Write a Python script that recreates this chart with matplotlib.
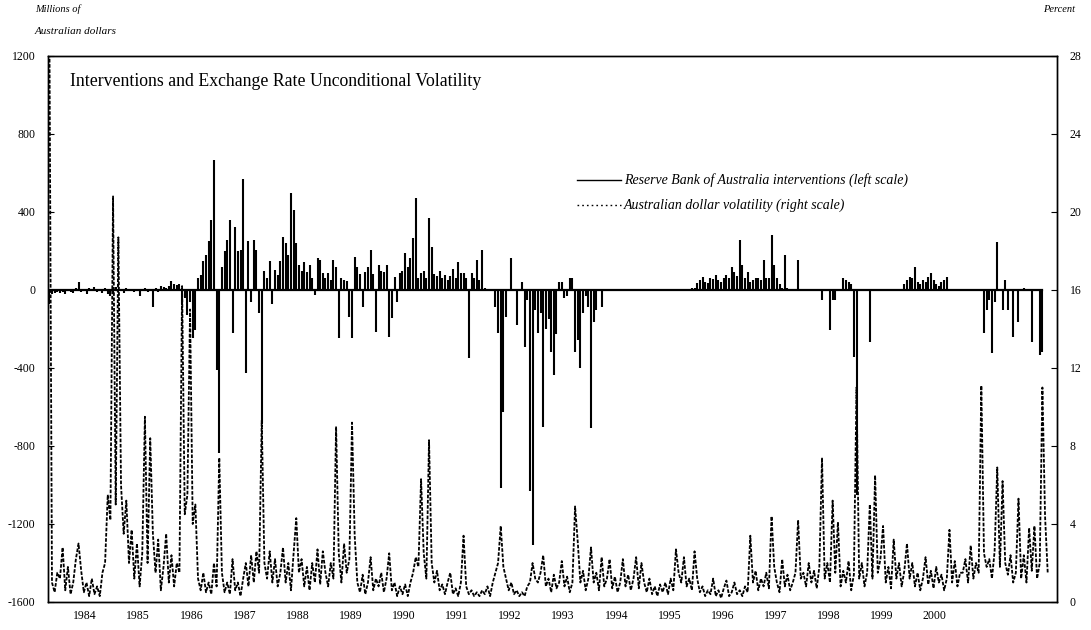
import numpy as np
import matplotlib
matplotlib.use("Agg")
import matplotlib.pyplot as plt
from matplotlib.lines import Line2D

plt.rcParams['font.family'] = ['Liberation Serif', 'DejaVu Serif']
plt.rcParams['axes.unicode_minus'] = False

# ---------------- data (sampled 20 times per year, first sample 1983.825) ----------------
start_date = 1983.825
step = 0.05

# Reserve Bank of Australia interventions, millions of A$ (left scale)
int_1983 = [-70, -20, -15, -10]
int_1984 = [-15, -10, -20, 5, -10, -15, 10, 40, -10, 5, -20, 10, -5, 15, -10, 5, -15, 10, -20, -30]
int_1985 = [-20, 15, -10, 5, -15, 10, -5, 5, -10, -5, -30, 5, 10, -10, 5, -85, 10, -10, 20, 15]
int_1986 = [10, 20, 45, 30, 25, 30, -70, -40, -130, -60, -245, -205, 60, 75, 150, 180, 250, 360, 667, -410]
int_1987 = [-836, 120, 200, 256, 360, -220, 325, 200, 205, 570, -427, 250, -60, 256, 205, -120, -680, 95, 60, 150]
int_1988 = [-70, 103, 75, 150, 270, 240, 180, 500, 410, 240, 130, 100, 145, 90, 130, 60, -25, 162, 154, 85]
int_1989 = [60, 85, 50, 154, 120, -248, 60, 50, 45, -137, -248, 171, 120, 80, -85, 90, 120, 205, 80, -214]
int_1990 = [128, 100, 90, 128, -240, -145, 68, -60, 85, 100, 188, 120, 162, 265, 470, 60, 85, 100, 60, 370]
int_1991 = [222, 80, 70, 96, 60, 75, 50, 70, 110, 60, 145, 85, 85, 60, -350, 85, 60, 154, 50, 205]
int_1992 = [10, 0, 0, 0, -85, -220, -1015, -625, -140, 0, 165, 0, -180, 0, 40, -290, -50, -1030, -1310, -100]
int_1993 = [-220, -120, -700, -200, -150, -316, -436, -225, 40, 43, -42, -30, 60, 60, -316, -256, -402, -120, -30, -85]
int_1994 = [-710, -163, -102, 0, -85, 0, 0, 0, 0, 0, 0, 0, 0, 0, 0, 0, 0, 0, 0, 0]
int_1995 = [0, 0, 0, 0, 0, 0, 0, 0, 0, 0, 0, 0, 0, 0, 5, 0, 5, 0, 8, 10]
int_1996 = [34, 50, 68, 40, 34, 60, 55, 77, 50, 40, 60, 77, 60, 120, 94, 70, 256, 128, 60, 94]
int_1997 = [40, 51, 60, 60, 51, 154, 60, 60, 282, 128, 60, 30, 10, 179, 10, 0, 0, 0, 154, 0]
int_1998 = [0, 0, 0, 0, 0, 0, 0, -51, 0, 0, -205, -51, -51, 0, 0, 60, 50, 40, 30, -342]
int_1999 = [-1050, 0, 0, 0, 0, -265, 0, 0, 0, 0, 0, 0, 0, 0, 0, 0, 0, 0, 30, 51]
int_2000 = [68, 60, 120, 40, 30, 50, 40, 68, 85, 50, 30, 20, 40, 50, 68, 0, 0, 5, 0, 0]
int_2001 = [0, 5, 0, 0, 0, 5, 0, 0, -222, -102, -50, -325, -60, 245, 0, -102, 51, -102, 0, -240]
int_2002 = [0, -162, 0, 10, 0, 0, -265, 0, 0, -333, -320]

# Australian dollar volatility, percent (right scale)
vol_1983 = [30, 1.0, 0.5, 1.5]
vol_1984 = [1.2, 2.8, 0.6, 1.8, 0.4, 1.0, 2.2, 3.0, 1.6, 0.5, 1.0, 0.3, 1.2, 0.4, 0.8, 0.3, 1.5, 2.0, 5.5, 4.2]
vol_1985 = [20.8, 5.0, 18.7, 6.0, 3.5, 5.2, 2.0, 3.7, 1.2, 3.0, 0.8, 2.5, 9.5, 2.0, 8.4, 3.5, 1.5, 3.2, 0.6, 1.8]
vol_1986 = [3.5, 1.0, 2.4, 0.8, 2.0, 1.5, 16.2, 4.5, 5.5, 15.0, 4.0, 5.0, 1.2, 0.6, 1.5, 0.5, 1.0, 0.4, 2.0, 0.8]
vol_1987 = [7.4, 1.5, 0.5, 1.0, 0.4, 2.2, 0.6, 1.0, 0.3, 1.2, 2.0, 0.8, 2.4, 1.0, 2.6, 1.5, 9.3, 2.0, 1.2, 2.6]
vol_1988 = [1.0, 2.2, 0.8, 1.5, 2.8, 1.0, 2.0, 0.6, 2.5, 4.3, 1.5, 2.2, 0.8, 1.8, 0.6, 2.0, 1.0, 2.7, 0.9, 2.6]
vol_1989 = [1.5, 0.8, 2.0, 1.2, 9.0, 2.5, 1.0, 3.0, 1.5, 2.2, 9.2, 3.4, 1.0, 0.5, 1.4, 0.4, 1.0, 2.3, 0.6, 1.2]
vol_1990 = [0.8, 1.5, 0.5, 1.2, 2.5, 0.6, 1.0, 0.3, 0.8, 0.4, 0.9, 0.3, 1.0, 1.5, 2.3, 1.8, 6.3, 2.5, 1.2, 8.3]
vol_1991 = [2.0, 1.0, 1.6, 0.6, 0.9, 0.4, 1.0, 1.5, 0.4, 0.7, 0.3, 1.0, 3.4, 0.8, 0.4, 0.6, 0.3, 0.5, 0.3, 0.6]
vol_1992 = [0.4, 0.8, 0.3, 1.0, 1.5, 2.0, 3.9, 1.8, 1.2, 0.6, 1.0, 0.4, 0.6, 0.3, 0.5, 0.3, 0.8, 1.0, 2.0, 1.2]
vol_1993 = [1.0, 1.5, 2.4, 0.8, 1.2, 0.5, 1.4, 0.7, 1.0, 2.1, 0.8, 1.3, 0.5, 1.0, 4.9, 3.1, 1.0, 1.6, 0.6, 1.2]
vol_1994 = [2.8, 1.0, 1.5, 0.6, 2.3, 0.8, 1.2, 2.2, 0.7, 1.3, 0.5, 1.0, 2.2, 0.8, 1.4, 0.6, 1.2, 2.3, 0.7, 2.0]
vol_1995 = [1.0, 0.5, 1.2, 0.4, 0.8, 0.3, 0.9, 0.5, 1.0, 0.4, 1.2, 0.6, 2.7, 1.5, 1.0, 2.3, 0.8, 1.2, 0.6, 2.6]
vol_1996 = [1.2, 0.5, 0.8, 0.3, 0.6, 0.4, 1.2, 0.3, 0.6, 0.2, 0.7, 1.1, 0.3, 0.5, 1.0, 0.4, 0.6, 0.3, 0.8, 0.5]
vol_1997 = [3.4, 1.0, 1.6, 0.6, 1.2, 0.8, 1.5, 0.7, 4.4, 1.8, 1.0, 0.5, 2.2, 0.8, 1.4, 0.6, 1.0, 1.5, 4.2, 1.2]
vol_1998 = [1.5, 0.8, 2.0, 1.0, 1.6, 0.7, 1.8, 7.4, 1.2, 2.0, 1.0, 5.2, 1.5, 4.1, 0.8, 1.6, 1.0, 2.1, 0.6, 1.4]
vol_1999 = [11.0, 1.2, 2.0, 0.8, 1.5, 5.0, 1.2, 6.5, 1.5, 2.2, 3.9, 1.0, 1.8, 0.7, 3.2, 1.2, 2.0, 0.8, 1.6, 3.0]
vol_2000 = [1.2, 2.0, 0.8, 1.5, 0.6, 1.2, 2.3, 0.9, 1.6, 0.7, 1.8, 1.0, 1.4, 0.6, 1.2, 3.7, 1.0, 2.1, 0.8, 1.5]
vol_2001 = [1.5, 2.2, 1.0, 2.9, 1.2, 2.0, 1.5, 11.1, 2.5, 1.8, 2.2, 1.2, 2.6, 6.9, 1.8, 6.2, 2.0, 1.4, 2.4, 1.0]
vol_2002 = [1.5, 5.3, 1.2, 2.4, 1.0, 3.8, 1.6, 3.9, 1.2, 2.0, 11.0, 4.4, 1.5]

year_labels = [str(y) for y in range(1984, 2001)]
left_ticks = [1200, 800, 400, 0, -400, -800, -1200, -1600]
right_ticks = [0, 4, 8, 12, 16, 20, 24, 28]

title_text = "Interventions and Exchange Rate Unconditional Volatility"
legend_int = "Reserve Bank of Australia interventions (left scale)"
legend_vol = "Australian dollar volatility (right scale)"

# ---------------- assemble ----------------
int_values = np.array(int_1983 + int_1984 + int_1985 + int_1986 + int_1987 + int_1988 + int_1989 +
                      int_1990 + int_1991 + int_1992 + int_1993 + int_1994 + int_1995 + int_1996 +
                      int_1997 + int_1998 + int_1999 + int_2000 + int_2001 + int_2002, dtype=float)
vol_values = np.array(vol_1983 + vol_1984 + vol_1985 + vol_1986 + vol_1987 + vol_1988 + vol_1989 +
                      vol_1990 + vol_1991 + vol_1992 + vol_1993 + vol_1994 + vol_1995 + vol_1996 +
                      vol_1997 + vol_1998 + vol_1999 + vol_2000 + vol_2001 + vol_2002, dtype=float)
int_dates = start_date + step * np.arange(len(int_values))
vol_dates = start_date + step * np.arange(len(vol_values))

W, H = 1091, 630
fig = plt.figure(figsize=(W / 100, H / 100), dpi=100)
ax = fig.add_axes([48 / W, 1 - 602 / H, (1057 - 48) / W, (602 - 56) / H])
ax2 = ax.twinx()

ax.set_xlim(1983.80, 2002.80)
ax.set_ylim(-1600, 1200)
ax2.set_ylim(0, 28)

# interventions: daily bars from zero plus the zero line
ax.vlines(int_dates, 0, int_values, colors='black', lw=1.5)
ax.plot([int_dates[0], int_dates[-1]], [0, 0], color='black', lw=1.6)

# volatility: dotted line
ax2.plot(vol_dates, vol_values, color='black', lw=1.3, linestyle=(0, (2.0, 0.9)))

# axes styling
for a in (ax, ax2):
    for s in a.spines.values():
        s.set_linewidth(1.0)
        s.set_color('black')

ax.set_yticks(left_ticks)
ax.set_yticklabels([str(v) for v in left_ticks])
ax.tick_params(axis='y', direction='in', length=4, width=0.8, pad=9, labelsize=8.5)
ax2.set_yticks(right_ticks)
ax2.set_yticklabels([str(v) for v in right_ticks])
ax2.tick_params(axis='y', direction='in', length=4, width=0.8, pad=9, labelsize=8.5)

ax.set_xticks([int(y) + 0.5 for y in year_labels])
ax.set_xticklabels(year_labels)
ax.tick_params(axis='x', length=0, pad=6, labelsize=8.5)

# title inside plot
fig.text(70 / W, 1 - 82 / H, title_text, fontsize=12.8, ha='left', va='center')

# legend (drawn by hand)
fig.add_artist(Line2D([577 / W, 621 / W], [1 - 180 / H, 1 - 180 / H], color='black', lw=1.0))
fig.add_artist(Line2D([577 / W, 621 / W], [1 - 205 / H, 1 - 205 / H], color='black', lw=1.0,
                      linestyle=(0, (1.2, 2.2))))
fig.text(624 / W, 1 - 180 / H, legend_int, fontsize=10, style='italic', ha='left', va='center')
fig.text(624 / W, 1 - 205 / H, legend_vol, fontsize=10, style='italic', ha='left', va='center')

# unit labels
fig.text(35 / W, 1 - 9 / H, "Millions of", fontsize=7.5, style='italic', ha='left', va='center')
fig.text(35 / W, 1 - 31 / H, "Australian dollars", fontsize=8, style='italic', ha='left', va='center')
fig.text(1075 / W, 1 - 9 / H, "Percent", fontsize=7.5, style='italic', ha='right', va='center')

fig.savefig("out.png", dpi=100)
